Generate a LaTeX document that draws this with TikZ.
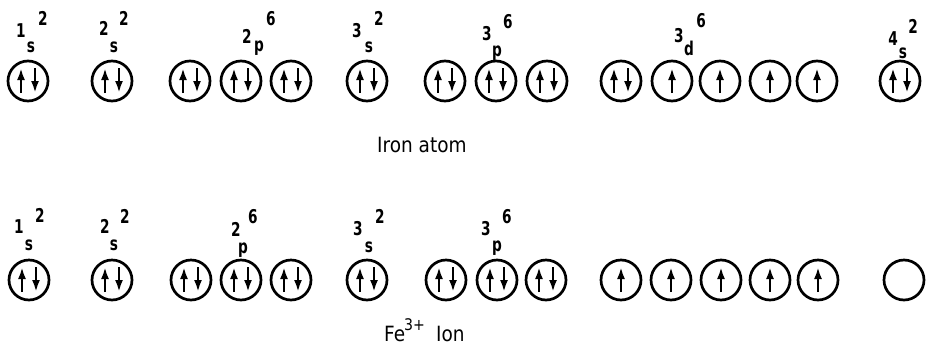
\documentclass[tikz,border=0pt]{standalone}
\usepackage{fontspec}
\setmainfont{DejaVu Sans}
\usetikzlibrary{arrows.meta}
\newcommand\lblfont{\fontsize{19}{19}\selectfont\bfseries}
\newcommand\txtfont{\fontsize{21}{21}\selectfont}
\newcommand\lb[1]{\scalebox{0.72}[1]{\lblfont #1}}
\newcommand\tx[1]{\scalebox{0.88}[1]{\txtfont #1}}
\tikzset{
  orb/.style={circle, draw, line width=2.7pt, minimum size=40pt, inner sep=0pt},
  spin/.style={line width=2.9pt, -{Latex[length=12pt,width=8pt]}},
  lab/.style={anchor=base, inner sep=0pt},
  txt/.style={anchor=base west, inner sep=0pt}
}
\newcommand\orbUD[3]{%
  \node[orb] (#1) at (#2,#3) {};
  \draw[spin] ([xshift=-7pt,yshift=-12pt]#1.center) -- ([xshift=-7pt,yshift=13pt]#1.center);
  \draw[spin] ([xshift=7pt,yshift=13pt]#1.center) -- ([xshift=7pt,yshift=-12pt]#1.center);}
\newcommand\orbU[3]{%
  \node[orb] (#1) at (#2,#3) {};
  \draw[spin] ([yshift=-12pt]#1.center) -- ([yshift=13pt]#1.center);}
\newcommand\orbE[3]{%
  \node[orb] (#1) at (#2,#3) {};}
\begin{document}
\begin{tikzpicture}[x=1pt,y=-1pt]
\useasboundingbox (0,0) rectangle (934,354);
% ---------- top row: iron atom ----------
\orbUD{a1s}{28}{81}
\orbUD{a2s}{112}{81}
\orbUD{a2pa}{190}{81}
\orbUD{a2pb}{241}{81}
\orbUD{a2pc}{291}{81}
\orbUD{a3s}{367}{81}
\orbUD{a3pa}{445}{81}
\orbUD{a3pb}{496}{81}
\orbUD{a3pc}{547}{81}
\orbUD{a3da}{621}{81}
\orbU{a3db}{672}{81}
\orbU{a3dc}{720}{81}
\orbU{a3dd}{770}{81}
\orbU{a3de}{817}{81}
\orbUD{a4s}{900}{81}
% labels top
\node[lab] (ta1) at (21,37) {\lb{1}};  \node[lab] (ta1s) at (31,52) {\lb{s}};  \node[lab] (ta1e) at (43,25) {\lb{2}};
\node[lab] (ta2) at (104,35) {\lb{2}}; \node[lab] (ta2s) at (114,52) {\lb{s}}; \node[lab] (ta2e) at (124,25) {\lb{2}};
\node[lab] (ta3) at (247,43) {\lb{2}}; \node[lab] (ta3s) at (259,51) {\lb{p}}; \node[lab] (ta3e) at (271,25) {\lb{6}};
\node[lab] (ta4) at (357,37) {\lb{3}}; \node[lab] (ta4s) at (369,52) {\lb{s}}; \node[lab] (ta4e) at (379,25) {\lb{2}};
\node[lab] (ta5) at (487,40) {\lb{3}}; \node[lab] (ta5s) at (497,56) {\lb{p}}; \node[lab] (ta5e) at (508,28) {\lb{6}};
\node[lab] (ta6) at (679,42) {\lb{3}}; \node[lab] (ta6s) at (689,55) {\lb{d}}; \node[lab] (ta6e) at (701,27) {\lb{6}};
\node[lab] (ta7) at (893,45) {\lb{4}}; \node[lab] (ta7s) at (903,58) {\lb{s}}; \node[lab] (ta7e) at (913,33) {\lb{2}};
\node[txt] (iron) at (377,152) {\tx{Iron atom}};
% ---------- bottom row: Fe3+ ion ----------
\orbUD{b1s}{29}{280}
\orbUD{b2s}{112}{280}
\orbUD{b2pa}{191}{280}
\orbUD{b2pb}{241}{280}
\orbUD{b2pc}{291}{280}
\orbUD{b3s}{367}{280}
\orbUD{b3pa}{446}{280}
\orbUD{b3pb}{497}{280}
\orbUD{b3pc}{546}{280}
\orbU{b3da}{621}{280}
\orbU{b3db}{671}{280}
\orbU{b3dc}{721}{280}
\orbU{b3dd}{770}{280}
\orbU{b3de}{818}{280}
\orbE{b4s}{904}{280}
% labels bottom
\node[lab] (tb1) at (19,233) {\lb{1}};  \node[lab] (tb1s) at (29,250) {\lb{s}};  \node[lab] (tb1e) at (40,222) {\lb{2}};
\node[lab] (tb2) at (105,233) {\lb{2}}; \node[lab] (tb2s) at (114,250) {\lb{s}}; \node[lab] (tb2e) at (125,223) {\lb{2}};
\node[lab] (tb3) at (236,236) {\lb{2}}; \node[lab] (tb3s) at (243,253) {\lb{p}}; \node[lab] (tb3e) at (253,223) {\lb{6}};
\node[lab] (tb4) at (358,235) {\lb{3}}; \node[lab] (tb4s) at (369,252) {\lb{s}}; \node[lab] (tb4e) at (380,223) {\lb{2}};
\node[lab] (tb5) at (486,235) {\lb{3}}; \node[lab] (tb5s) at (497,251) {\lb{p}}; \node[lab] (tb5e) at (507,223) {\lb{6}};
\node[txt] (fe) at (384,341) {\tx{Fe}};
\node[txt] (fesup) at (404,330) {\scalebox{0.88}[1]{\fontsize{16}{16}\selectfont 3+}};
\node[txt] (ion) at (436,341) {\tx{Ion}};
\end{tikzpicture}
\end{document}
